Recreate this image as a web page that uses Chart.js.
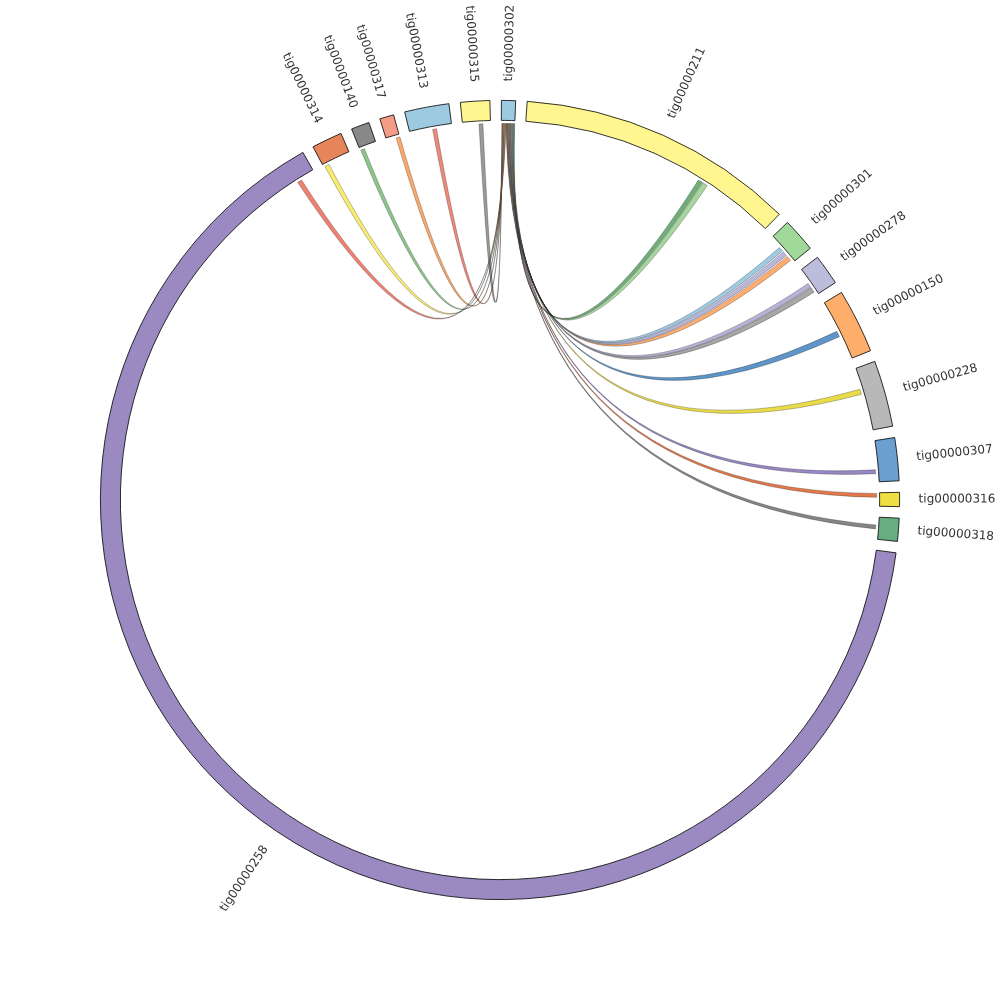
<!DOCTYPE html>
<html>
<head>
<meta charset="utf-8">
<script src="https://cdn.jsdelivr.net/npm/chart.js@4.4.1/dist/chart.umd.min.js"></script>
<style>
  html, body { margin: 0; padding: 0; background: #fff; }
  #chordChart { display: block; }
</style>
</head>
<body>
<canvas id="chordChart" width="1000" height="1000"></canvas>
<script>
// contigs around the circle, clockwise from 12 o'clock
var contigs = ['tig00000302', 'tig00000211', 'tig00000301', 'tig00000278', 'tig00000150',
               'tig00000228', 'tig00000307', 'tig00000316', 'tig00000318', 'tig00000258',
               'tig00000314', 'tig00000140', 'tig00000317', 'tig00000313', 'tig00000315'];
// contig lengths (kb)
var contigLengths = [41, 809, 99, 89, 187, 193, 125, 41, 67, 4657, 89, 53, 41, 129, 85];
var contigColors = ['#9ecae1', '#fff68f', '#a1d99b', '#bcbddc', '#fdae6b',
                    '#b8b8b8', '#6a9fd0', '#efdf45', '#68ad7f', '#9a8ac1',
                    '#e6845a', '#888888', '#f59c87', '#9ecae1', '#fff68f'];

// links: all start on tig00000302 (positions in kb inside each contig)
var linkSource = 'tig00000302';
var linkSourceStart = [1.5, 3.7, 5.9, 8.1, 10.3, 12.5, 14.7, 16.9, 19.1, 21.3, 23.5, 25.7, 27.9, 30.1, 32.3, 34.5, 36.7, 38.9];
var linkSourceEnd   = [3.4, 5.6, 7.8, 10, 12.2, 14.4, 16.6, 18.8, 21, 23.2, 25.4, 27.6, 29.8, 32, 34.2, 36.4, 38.6, 40.8];
var linkTargets = ['tig00000315', 'tig00000313', 'tig00000317', 'tig00000140', 'tig00000314', 'tig00000258',
                   'tig00000318', 'tig00000316', 'tig00000307', 'tig00000228', 'tig00000150',
                   'tig00000278', 'tig00000278', 'tig00000301', 'tig00000301', 'tig00000301',
                   'tig00000211', 'tig00000211'];
var linkTargetStart = [50, 70, 30, 2, 4, 4598, 24, 2, 88, 64, 94, 62, 46, 74, 56, 38, 574, 558];
var linkTargetEnd   = [62, 82, 42, 14, 18, 4612, 36, 14, 100, 80, 112, 78, 60, 90, 70, 52, 590, 572];
var linkColors = ['#9a9a9a', '#f08a78', '#fca86a', '#8cc68a', '#f7ec6e', '#ee8070',
                  '#858585', '#e3784a', '#9787c4', '#e9dc48', '#5f95c8',
                  '#a8a8a8', '#b7b3d8', '#fdad6f', '#bcb8dc', '#9fcbe4',
                  '#a5d69d', '#6fae78'];

var GAP_DEG = 1.65;
var START_DEG = 0.2;

// build doughnut data: contig, gap, contig, gap ...
var totalLength = contigLengths.reduce(function(a, b) { return a + b; }, 0);
var gapValue = totalLength * GAP_DEG / (360 - contigs.length * GAP_DEG);
var ringData = [], ringLabels = [], ringColors = [], ringBorders = [], ringBorderWidths = [];
contigs.forEach(function(name, i) {
    ringData.push(contigLengths[i]);
    ringLabels.push(name);
    ringColors.push(contigColors[i]);
    ringBorders.push('#000000');
    ringBorderWidths.push(0.8);
    ringData.push(gapValue);
    ringLabels.push('');
    ringColors.push('rgba(0,0,0,0)');
    ringBorders.push('rgba(0,0,0,0)');
    ringBorderWidths.push(0);
});

// angle of a kb position inside a contig, read from the doughnut arc
function contigAngle(chart, name, pos) {
    var i = contigs.indexOf(name);
    var arc = chart.getDatasetMeta(0).data[2 * i];
    return arc.startAngle + (pos / contigLengths[i]) * (arc.endAngle - arc.startAngle);
}

// ribbons between contigs
var ribbonPlugin = {
    id: 'ribbons',
    afterDatasetsDraw: function(chart) {
        var ctx = chart.ctx;
        var arc0 = chart.getDatasetMeta(0).data[0];
        var cx = arc0.x, cy = arc0.y;
        var r = arc0.innerRadius - 3;
        var k = 0.95;
        function pt(a) { return [cx + r * Math.cos(a), cy + r * Math.sin(a)]; }
        function ctrl(a, b) {
            var p = pt(a), q = pt(b);
            var mx = (p[0] + q[0]) / 2, my = (p[1] + q[1]) / 2;
            return [mx + k * (cx - mx), my + k * (cy - my)];
        }
        ctx.save();
        linkTargets.forEach(function(target, j) {
            var s0 = contigAngle(chart, linkSource, linkSourceStart[j]);
            var s1 = contigAngle(chart, linkSource, linkSourceEnd[j]);
            var t0 = contigAngle(chart, target, linkTargetStart[j]);
            var t1 = contigAngle(chart, target, linkTargetEnd[j]);
            ctx.beginPath();
            ctx.arc(cx, cy, r, s0, s1);
            var c = ctrl(s1, t0), p = pt(t0);
            ctx.quadraticCurveTo(c[0], c[1], p[0], p[1]);
            ctx.arc(cx, cy, r, t0, t1);
            c = ctrl(t1, s0); p = pt(s0);
            ctx.quadraticCurveTo(c[0], c[1], p[0], p[1]);
            ctx.closePath();
            ctx.fillStyle = linkColors[j];
            ctx.fill();
            ctx.lineWidth = 0.5;
            ctx.strokeStyle = 'rgba(0,0,0,0.5)';
            ctx.stroke();
        });
        ctx.restore();
    }
};

// radial contig names outside the ring
var radialLabelPlugin = {
    id: 'radialLabels',
    afterDraw: function(chart) {
        var ctx = chart.ctx;
        var meta = chart.getDatasetMeta(0);
        ctx.save();
        ctx.font = '12px "DejaVu Sans"';
        ctx.fillStyle = '#333333';
        ctx.textBaseline = 'middle';
        contigs.forEach(function(name, i) {
            var arc = meta.data[2 * i];
            var mid = (arc.startAngle + arc.endAngle) / 2;
            var rr = arc.outerRadius + 19;
            ctx.save();
            ctx.translate(arc.x, arc.y);
            if (Math.cos(mid) >= 0) {
                ctx.rotate(mid);
                ctx.textAlign = 'left';
                ctx.fillText(name, rr, 0);
            } else {
                ctx.rotate(mid + Math.PI);
                ctx.textAlign = 'right';
                ctx.fillText(name, -rr, 0);
            }
            ctx.restore();
        });
        ctx.restore();
    }
};

var ctx = document.getElementById('chordChart').getContext('2d');
var chart = new Chart(ctx, {
    type: 'doughnut',
    data: {
        labels: ringLabels,
        datasets: [{
            data: ringData,
            backgroundColor: ringColors,
            borderColor: ringBorders,
            borderWidth: ringBorderWidths,
            borderAlign: 'center',
            hoverOffset: 0
        }]
    },
    options: {
        responsive: false,
        animation: false,
        rotation: START_DEG,
        cutout: '95%',
        layout: { padding: 100 },
        plugins: {
            legend: { display: false },
            tooltip: { enabled: false }
        }
    },
    plugins: [ribbonPlugin, radialLabelPlugin]
});
</script>
</body>
</html>
